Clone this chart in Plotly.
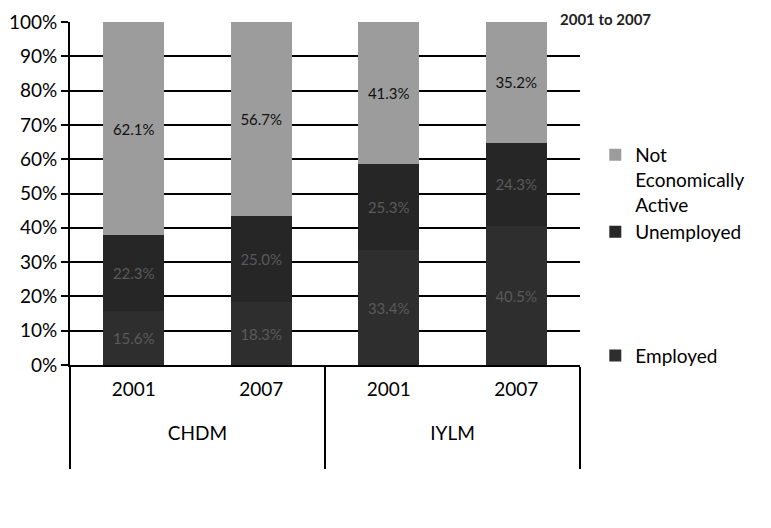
import plotly.graph_objects as go

groups = ["CHDM", "CHDM", "IYLM", "IYLM"]
years = ["2001", "2007", "2001", "2007"]
employed = [15.6, 18.3, 33.4, 40.5]
unemployed = [22.3, 25.0, 25.3, 24.3]
not_active = [62.1, 56.7, 41.3, 35.2]
y_ticks = [0, 10, 20, 30, 40, 50, 60, 70, 80, 90, 100]
y_tick_labels = ["0%", "10%", "20%", "30%", "40%", "50%", "60%", "70%", "80%", "90%", "100%"]

FONT = "Lato"
x = [["<br>" + g + "<br>&nbsp;" for g in groups], years]

fig = go.Figure()
fig.add_trace(go.Bar(
    x=x, y=employed, name="Employed", legendgroup="b", legendrank=3,
    marker=dict(color="#2e2e2e", line=dict(width=0)),
    text=[f"{v:.1f}%" for v in employed], textposition="inside",
    insidetextanchor="middle", textangle=0,
    textfont=dict(family=FONT, size=15, color="#5a5a5a"),
))
fig.add_trace(go.Bar(
    x=x, y=unemployed, name="Unemployed", legendgroup="a", legendrank=2,
    marker=dict(color="#262626", line=dict(width=0)),
    text=[f"{v:.1f}%" for v in unemployed], textposition="inside",
    insidetextanchor="middle", textangle=0,
    textfont=dict(family=FONT, size=15, color="#5a5a5a"),
))
fig.add_trace(go.Bar(
    x=x, y=not_active, name="Not<br>Economically<br>Active", legendgroup="a", legendrank=1,
    marker=dict(color="#9c9c9c", line=dict(width=0)),
    text=[f"{v:.1f}%" for v in not_active], textposition="inside",
    insidetextanchor="middle", textangle=0,
    textfont=dict(family=FONT, size=15, color="#111111"),
))

fig.update_layout(
    width=771, height=528,
    barmode="stack", bargap=0.52,
    paper_bgcolor="white", plot_bgcolor="white",
    margin=dict(l=62, r=199, t=14, b=171, autoexpand=False),
    font=dict(family=FONT, size=19, color="black"),
    showlegend=True,
    legend=dict(
        x=1.03, xanchor="left", y=0.668, yanchor="top",
        traceorder="grouped", tracegroupgap=96, valign="top",
        font=dict(family=FONT, size=19, color="black"),
        itemwidth=30, bgcolor="rgba(0,0,0,0)",
    ),
    annotations=[dict(
        text="<b>2001 to 2007</b>", xref="paper", yref="paper",
        x=1.05, y=1.04, xanchor="center", yanchor="top",
        showarrow=False, font=dict(family=FONT, size=15, color="#222"),
    )],
)

fig.update_xaxes(
    type="multicategory", automargin=False,
    showline=True, linecolor="black", linewidth=2,
    showdividers=True, dividercolor="black", dividerwidth=2,
    tickfont=dict(family=FONT, size=19, color="black"),
    ticks="", ticklabelstandoff=6,
)
fig.update_yaxes(
    range=[0, 100], tickvals=y_ticks, ticktext=y_tick_labels, automargin=False,
    showgrid=True, gridcolor="black", gridwidth=2,
    showline=True, linecolor="black", linewidth=2,
    ticks="outside", ticklen=7, tickcolor="black", tickwidth=2,
    tickfont=dict(family=FONT, size=19, color="black"),
    zeroline=False,
)

fig.write_html("out.html")
